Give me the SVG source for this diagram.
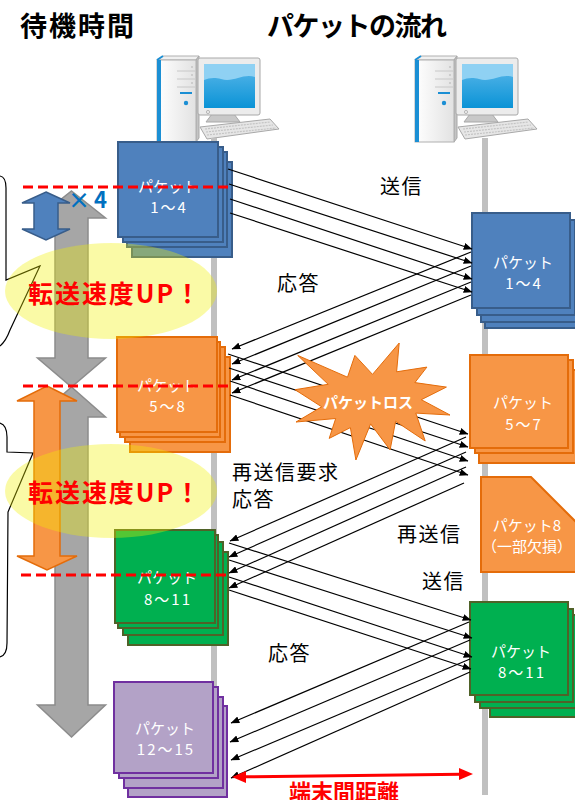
<svg xmlns="http://www.w3.org/2000/svg" width="575" height="800" viewBox="0 0 575 800">
<style>
text{font-family:"Noto Sans CJK JP","Noto Sans",sans-serif}
.title{font-size:27px;font-weight:bold;fill:#000}
.lbl{font-size:20px;fill:#000;letter-spacing:1.5px}
.pk{font-size:15px;fill:#fff;text-anchor:middle}
.num{letter-spacing:2px}
.up{font-size:25px;font-weight:bold;fill:#f00}
.tl{stroke:#c0c0c0;stroke-width:6}
.c line{stroke:#000;stroke-width:1.2;marker-end:url(#ah)}
.blue rect{fill:#4f81bd;stroke:#385d8a;stroke-width:2}
.orange rect,.orange polygon{fill:#f79646;stroke:#e46c0a;stroke-width:2}
.green rect{fill:#00b050;stroke:#4f6228;stroke-width:2}
.purple rect{fill:#b3a2c7;stroke:#7030a0;stroke-width:2}
.dash{stroke:#f00;stroke-width:3;stroke-dasharray:10 5}
.hl{fill:#f0f000;opacity:.35}
.bubble{fill:none;stroke:#000;stroke-width:1.2}
</style>
<defs>
  <marker id="ah" viewBox="0 0 10 8" refX="9.5" refY="4" markerWidth="9" markerHeight="7" markerUnits="userSpaceOnUse" orient="auto">
    <path d="M0,0L10,4L0,8z" fill="#000"/>
  </marker>
  <linearGradient id="towerG" x1="0" y1="0" x2="1" y2="0">
    <stop offset="0" stop-color="#ffffff"/>
    <stop offset="1" stop-color="#e2e2e2"/>
  </linearGradient>
  <linearGradient id="scrG" x1="0" y1="0" x2="0" y2="1">
    <stop offset="0" stop-color="#5cb8ea"/>
    <stop offset="1" stop-color="#0a93d6"/>
  </linearGradient>
  <g id="pc">
    <!-- tower -->
    <polygon points="157,60 163,56 199,56 196,60" fill="#f0f0f0" stroke="#b0b0b0" stroke-width="1"/>
    <polygon points="196,60 199,56 199,138 196,142" fill="#c4c4c4" stroke="#a8a8a8" stroke-width="1"/>
    <rect x="157" y="60" width="39" height="82" fill="url(#towerG)" stroke="#b0b0b0" stroke-width="1"/>
    <rect x="157" y="60" width="4" height="82" fill="#1b8fd4"/>
    <line x1="157" y1="60" x2="163" y2="56" stroke="#1b8fd4" stroke-width="2"/>
    <g stroke="#c8c8c8" stroke-width="1">
      <line x1="177" y1="71" x2="195" y2="71"/>
      <line x1="177" y1="79" x2="195" y2="79"/>
      <line x1="177" y1="87" x2="195" y2="87"/>
    </g>
    <g fill="#c4c4c4">
      <circle cx="192" cy="67" r="1"/>
      <circle cx="192" cy="75" r="1"/>
      <circle cx="192" cy="83" r="1"/>
    </g>
    <rect x="180" y="92" width="12" height="2" fill="#1b8fd4"/>
    <circle cx="186" cy="103" r="2.2" fill="#1b8fd4"/>
    <!-- monitor -->
    <polygon points="212,114 234,114 240,122 206,122" fill="#c8c8c8" stroke="#a8a8a8" stroke-width="1"/>
    <rect x="198" y="58" width="62" height="57" rx="2" fill="#ececec" stroke="#a8a8a8" stroke-width="1"/>
    <rect x="204" y="64" width="51" height="44" fill="url(#scrG)"/>
    <path d="M204,64h51v13c-12,-4 -22,6 -34,2c-7,-2 -12,-1 -17,1z" fill="#8fd1f3"/>
    <circle cx="208" cy="112" r="1.6" fill="none" stroke="#aaaaaa" stroke-width="0.8"/>
    <!-- keyboard -->
    <polygon points="200,127 270,119 279,129 207,139" fill="#e6e6e6" stroke="#a8a8a8" stroke-width="1"/>
    <g stroke="#c4c4c4" stroke-width="1.2" stroke-dasharray="2 1">
      <line x1="205" y1="129" x2="270" y2="122"/>
      <line x1="206" y1="132" x2="273" y2="125"/>
      <line x1="207" y1="135" x2="276" y2="128"/>
    </g>
  </g>
</defs>

<!-- headings -->
<text class="title" x="20" y="36" textLength="114">待機時間</text>
<text class="title" x="267" y="36" textLength="180">パケットの流れ</text>

<!-- terminals -->
<g id="terminal-a"><use href="#pc"/></g>
<g id="terminal-b"><use href="#pc" x="258"/></g>

<!-- timelines -->
<g id="timelines">
  <line class="tl" x1="214" y1="138" x2="214" y2="790"/>
  <line class="tl" x1="485" y1="138" x2="485" y2="795"/>
</g>

<!-- callout frames -->
<g id="callouts">
  <path class="bubble" d="M0,176Q6,177 6,188L6,280L40,266L10,330Q6,341 0,346"/>
  <path class="bubble" d="M0,423Q7,425 7,437L7,452L33,453L8,512L7,643Q7,655 0,657"/>
</g>

<!-- waiting time arrows -->
<g id="wait-1">
  <polygon points="71.5,191 105.5,218 88,218 88,358 105.5,358 71.5,387 37.5,358 55,358 55,218 37.5,218" fill="#a6a6a6" stroke="#8c8c8c" stroke-width="1.5"/>
</g>
<g id="wait-2">
  <polygon points="71.5,387 105.5,417 88,417 88,705 105.5,705 71.5,737 37.5,705 55,705 55,417 37.5,417" fill="#a6a6a6" stroke="#8c8c8c" stroke-width="1.5"/>
</g>
<g id="wait-short">
  <polygon points="46,192 70,203 58,203 58,229 70,229 46,240 22,229 34,229 34,203 22,203" fill="#4f81bd" stroke="#385d8a" stroke-width="1.5"/>
  <text x="68" y="208" font-size="22" font-weight="bold" fill="#0070c0" letter-spacing="4">×4</text>
</g>
<g id="wait-long">
  <polygon points="47,386 77,401 60,401 60,556 77,556 47,570 17,556 34,556 34,401 17,401" fill="#f79646" stroke="#e46c0a" stroke-width="1.5"/>
</g>

<!-- packet stacks, sender side -->
<g id="pkt-1-4-a" class="blue">
  <rect x="132" y="162" width="100" height="95"/>
  <rect x="127" y="152" width="100" height="95"/>
  <rect x="123" y="147" width="100" height="95"/>
  <rect x="118" y="142" width="100" height="95"/>
  <text class="pk" x="168" y="192">パケット</text>
  <text class="pk num" x="169" y="213">1～4</text>
</g>
<g id="pkt-5-8-a" class="orange">
  <rect x="130" y="357" width="100" height="95"/>
  <rect x="125" y="347" width="100" height="95"/>
  <rect x="120" y="342" width="100" height="95"/>
  <rect x="117" y="337" width="100" height="95"/>
  <text class="pk" x="167" y="391">パケット</text>
  <text class="pk num" x="168" y="412">5～8</text>
</g>
<g id="pkt-8-11-a" class="green">
  <rect x="128" y="552" width="100" height="93"/>
  <rect x="123" y="542" width="100" height="93"/>
  <rect x="118" y="535" width="100" height="93"/>
  <rect x="115" y="530" width="100" height="93"/>
  <text class="pk" x="167" y="583">パケット</text>
  <text class="pk num" x="168" y="605">8～11</text>
</g>
<g id="pkt-12-15-a" class="purple">
  <rect x="128" y="706" width="99" height="91"/>
  <rect x="124" y="697" width="99" height="91"/>
  <rect x="119" y="687" width="99" height="91"/>
  <rect x="114" y="682" width="99" height="91"/>
  <text class="pk" x="165" y="734">パケット</text>
  <text class="pk num" x="166" y="755">12～15</text>
</g>

<!-- packet stacks, receiver side -->
<g id="pkt-1-4-b" class="blue">
  <rect x="485" y="233" width="98" height="95"/>
  <rect x="481" y="227" width="98" height="95"/>
  <rect x="477" y="220" width="98" height="95"/>
  <rect x="472" y="213" width="98" height="95"/>
  <text class="pk" x="523" y="268">パケット</text>
  <text class="pk num" x="524" y="289">1～4</text>
</g>
<g id="pkt-5-7-b" class="orange">
  <rect x="479" y="370" width="98" height="93"/>
  <rect x="475" y="360" width="98" height="93"/>
  <rect x="470" y="355" width="98" height="93"/>
  <text class="pk" x="523" y="408">パケット</text>
  <text class="pk num" x="524" y="430">5～7</text>
</g>
<g id="pkt-8-b" class="orange">
  <polygon points="481,477 531,477 580,526 580,572 481,572"/>
  <text class="pk" x="527" y="531">パケット8</text>
  <text class="pk" x="527" y="552">（一部欠損）</text>
</g>
<g id="pkt-8-11-b" class="green">
  <rect x="490" y="624" width="98" height="93"/>
  <rect x="480" y="615" width="98" height="93"/>
  <rect x="475" y="609" width="98" height="93"/>
  <rect x="470" y="602" width="98" height="93"/>
  <text class="pk" x="521" y="657">パケット</text>
  <text class="pk num" x="522" y="678">8～11</text>
</g>

<!-- highlight ellipses -->
<ellipse class="hl" cx="111" cy="291" rx="106" ry="48"/>
<ellipse class="hl" cx="111" cy="491" rx="106" ry="47"/>
<text class="up" x="28" y="303" textLength="172">転送速度UP！</text>
<text class="up" x="28" y="502" textLength="172">転送速度UP！</text>

<!-- connectors -->
<g id="connectors" class="c">
  <line x1="228" y1="169" x2="472" y2="249"/>
  <line x1="229" y1="184" x2="472" y2="263"/>
  <line x1="230" y1="199" x2="472" y2="279"/>
  <line x1="230" y1="213" x2="472" y2="292"/>
  <line x1="471" y1="252" x2="232" y2="349"/>
  <line x1="471" y1="266" x2="232" y2="364"/>
  <line x1="471" y1="282" x2="232" y2="380"/>
  <line x1="471" y1="295" x2="232" y2="393"/>
  <line x1="228" y1="354" x2="468" y2="434"/>
  <line x1="229" y1="368" x2="468" y2="447"/>
  <line x1="230" y1="381" x2="468" y2="461"/>
  <line x1="230" y1="395" x2="468" y2="475"/>
  <line x1="466" y1="437" x2="230" y2="541"/>
  <line x1="466" y1="452" x2="229" y2="557"/>
  <line x1="466" y1="467" x2="229" y2="573"/>
  <line x1="464" y1="483" x2="229" y2="588"/>
  <line x1="229" y1="543" x2="471" y2="620"/>
  <line x1="229" y1="560" x2="472" y2="638"/>
  <line x1="229" y1="577" x2="472" y2="657"/>
  <line x1="229" y1="590" x2="471" y2="669"/>
  <line x1="469" y1="622" x2="231" y2="723"/>
  <line x1="470" y1="640" x2="230" y2="742"/>
  <line x1="470" y1="659" x2="231" y2="760"/>
  <line x1="470" y1="672" x2="231" y2="778"/>
</g>

<!-- loss burst -->
<g id="packet-loss">
  <polygon points="372.5,374.4 399.2,343 396.6,371.8 426.9,367.1 414.9,382.6 446.4,387.1 421.3,399.7 450,415 415.8,413.1 425.2,441 395.6,421.3 390.1,449.9 370.6,423.9 355.9,460 350.4,427.6 329.2,438.4 335.7,418.5 296,422 321.7,406.8 295,389.7 328.2,384.3 297.7,355.4 347.5,377.2 354.9,355.4" fill="#f79646" stroke="#e46c0a" stroke-width="1"/>
  <text x="368" y="408" font-size="15" font-weight="bold" fill="#fff" text-anchor="middle">パケットロス</text>
</g>

<!-- labels -->
<g id="labels">
  <text class="lbl" x="380" y="194">送信</text>
  <text class="lbl" x="277" y="291">応答</text>
  <text class="lbl" x="232" y="480">再送信要求</text>
  <text class="lbl" x="232" y="507">応答</text>
  <text class="lbl" x="397" y="542">再送信</text>
  <text class="lbl" x="422" y="589">送信</text>
  <text class="lbl" x="268" y="661">応答</text>
</g>

<!-- waiting-time markers -->
<g id="markers">
  <line class="dash" x1="23" y1="187" x2="230" y2="187"/>
  <line class="dash" x1="23" y1="386" x2="230" y2="386"/>
  <line class="dash" x1="21" y1="575" x2="228" y2="575"/>
</g>

<!-- distance between terminals -->
<g id="distance">
  <line x1="244" y1="776.8" x2="461" y2="774.2" stroke="#f00" stroke-width="3"/>
  <polygon points="232,777 246,771 246,783" fill="#f00"/>
  <polygon points="473,774 459,768 459,780" fill="#f00"/>
  <text x="289" y="800" font-size="22" font-weight="bold" fill="#f00">端末間距離</text>
</g>
</svg>
